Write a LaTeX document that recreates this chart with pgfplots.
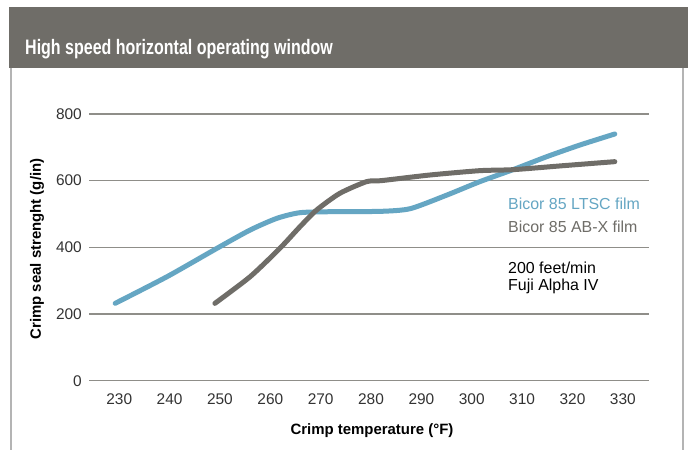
\documentclass[border=0pt]{standalone}
\usepackage{pgfplots}
\pgfplotsset{compat=1.18}
\usepackage{fontspec}
\setmainfont{Liberation Sans}
\definecolor{barcol}{HTML}{6F6D68}
\definecolor{bluecol}{HTML}{65A6C3}
\definecolor{graycol}{HTML}{6F6D68}
\definecolor{gridcol}{HTML}{8F8E89}
\definecolor{bordercol}{HTML}{B4B4B4}
\definecolor{tickcol}{HTML}{333333}
\pgfplotstableread{
x y
229.2 232
239.5 312
249.4 397
256 452
261.3 487
265.9 504
272.5 507
282 508
287.8 516
295.1 557
301.6 597
308.2 633
314.9 672
321.5 707
328.4 740
}\ltsc
\pgfplotstableread{
x y
249 232
256 312
261.9 397
265.9 462
269.2 512
273.8 562
279.1 597
282 600
291.7 617
301.6 630
308.2 633
318.2 645
328.4 657
}\abx
\begin{document}
\begin{tikzpicture}[x=1bp,y=1bp]
\fill[white] (0,0) rectangle (688,450);
\fill[barcol] (9,382) rectangle (688,442.5);
\node[anchor=base west, inner sep=0pt, text=white] at (25,395)
  {\scalebox{0.765}[1]{\fontsize{21}{25}\selectfont\bfseries High speed horizontal operating window}};
\draw[bordercol, line width=1.5bp] (11,0) -- (11,382);
\draw[bordercol, line width=1.5bp] (683,0) -- (683,382);
\begin{axis}[
  at={(89bp,69.3bp)}, anchor=south west,
  scale only axis, width=560bp, height=266.7bp,
  xmin=224, xmax=335.2, ymin=0, ymax=800,
  xtick={230,240,...,330}, ytick={0,200,...,800},
  axis line style={draw=none}, tick style={draw=none},
  ymajorgrids, grid style={gridcol, line width=1.2bp},
  clip=false,
  /pgf/number format/assume math mode=true,
  /pgf/number format/1000 sep={},
  xticklabel style={anchor=base, yshift=-24bp, inner sep=0pt, text=tickcol, font=\fontsize{15.5}{18}\selectfont},
  yticklabel style={anchor=east, xshift=-7bp, inner sep=0pt, text=tickcol, font=\fontsize{15.5}{18}\selectfont},
]
\addplot[bluecol, line width=5bp, line cap=round, smooth, tension=0.4] table {\ltsc};
\addplot[graycol, line width=5bp, line cap=round, smooth, tension=0.4] table {\abx};
\end{axis}
\node[anchor=base, inner sep=0pt] at (372,15) {\fontsize{15}{18}\selectfont\bfseries Crimp temperature (°F)};
\node[rotate=90, inner sep=0pt] at (37,201) {\fontsize{15}{18}\selectfont\bfseries Crimp seal strenght (g/in)};
\node[anchor=base west, inner sep=0pt, text=bluecol] at (508,240) {\fontsize{16}{18}\selectfont Bicor 85 LTSC film};
\node[anchor=base west, inner sep=0pt, text=graycol] at (508,217) {\fontsize{16}{18}\selectfont Bicor 85 AB-X film};
\node[anchor=base west, inner sep=0pt] at (508,176) {\fontsize{16}{18}\selectfont 200 feet/min};
\node[anchor=base west, inner sep=0pt] at (508,159) {\fontsize{16}{18}\selectfont Fuji Alpha IV};
\end{tikzpicture}
\end{document}
